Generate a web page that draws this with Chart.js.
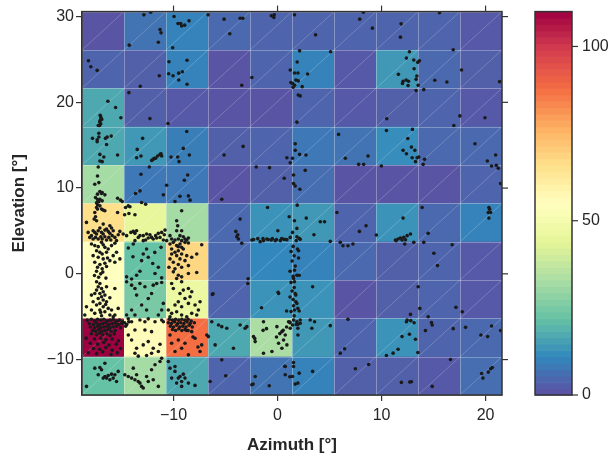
<!DOCTYPE html>
<html>
<head>
<meta charset="utf-8">
<script src="https://cdn.jsdelivr.net/npm/chart.js@4.4.1/dist/chart.umd.min.js"></script>
<style>
  html, body { margin: 0; padding: 0; background: #fff; }
  #wrap { width: 613px; height: 460px; position: relative; }
</style>
</head>
<body>
<div id="wrap"><canvas id="heat"></canvas></div>
<script>
// histogram bin edges (deg)
const azEdges = [-18.8, -14.76, -10.72, -6.68, -2.64, 1.4, 5.44, 9.47, 13.51, 17.55, 21.58];
const elEdges = [-14.13, -9.66, -5.19, -0.72, 3.75, 8.22, 12.69, 17.16, 21.64, 26.11, 30.58];

// counts per bin, highest elevation row first
const binCounts = [
    [1, 7, 10, 5, 4, 4, 4, 4, 4, 2],
    [4, 3, 10, 1, 4, 10, 2, 14, 5, 3],
    [17, 3, 2, 1, 1, 4, 2, 3, 4, 2],
    [17, 14, 9, 3, 4, 8, 7, 12, 5, 5],
    [32, 8, 8, 1, 3, 6, 1, 1, 1, 4],
    [66, 45, 32, 5, 13, 14, 4, 13, 5, 10],
    [55, 22, 68, 5, 11, 10, 5, 3, 4, 2],
    [55, 25, 47, 4, 13, 13, 1, 3, 4, 2],
    [110, 56, 88, 17, 33, 14, 4, 13, 4, 5],
    [22, 32, 17, 4, 7, 10, 3, 3, 2, 6]
];

const xTicks = [-10, 0, 10, 20];
const yTicks = [-10, 0, 10, 20, 30];
const cbTicks = [0, 50, 100];
const cbMax = 110;

// Spectral, reversed (low = purple)
const spectral = ['#5e4fa2', '#3288bd', '#66c2a5', '#abdda4', '#e6f598', '#ffffbf',
    '#fee08b', '#fdae61', '#f46d43', '#d53e4f', '#9e0142'];

// gaze samples [azimuth, elevation]
const scatterPts = [
    [-12.85,30.2],[-12.2,30.5],[-9.95,30.0],[-9.57,29.2],[-9.31,29.2],[-9.22,28.9],[-8.93,29.0],[-8.51,29.5],
    [-6.68,30.2],[-5.14,29.7],[-3.6,29.8],[-3.34,29.8],[-4.59,28.0],[-0.6,30.1],[-0.32,30.2],[-0.35,29.9],
    [-11.3,28.5],[-11.2,28.1],[-11.46,27.0],[-14.26,26.67],[-10.08,26.36],
    [-18.18,24.85],[-17.95,24.15],[-17.34,23.73],[-11.37,23.1],[-13.2,21.87],[-10.44,24.73],[-8.7,24.9],
    [-10.47,23.34],[-10.05,23.1],[-9.5,23.4],[-9.15,23.57],[-9.5,22.6],[-8.7,22.1],[-3.44,21.99],[-2.47,22.9],
    [1.22,23.77],[1.28,22.3],
    [-14.29,21.13],[-16.31,20.13],[-15.57,19.4],[-15.06,18.2],[-17.05,18.5],[-17.0,18.3],[-16.95,18.1],
    [-17.05,17.9],[-17.1,17.7],[-17.0,17.5],[-16.9,18.0],[-17.1,17.3],[-17.24,17.3],[-12.27,18.1],[-10.53,17.53],
    [-8.73,16.6],
    [-17.18,16.4],[-17.18,15.95],[-17.79,15.8],[-17.34,15.64],[-16.54,15.8],[-16.38,15.95],[-15.99,16.06],[-12.97,15.8],
    [-17.34,15.4],[-16.44,15.09],[-17.08,13.93],[-16.7,13.62],[-17.08,13.16],[-16.86,13.08],[-15.38,13.85],
    [-13.49,14.51],[-13.55,13.54],[-13.13,13.74],[-11.95,13.35],[-11.72,13.47],[-11.53,13.74],[-11.3,13.93],
    [-11.2,14.01],[-11.14,13.74],[-12.1,13.23],[-11.85,13.47],[-10.24,13.62],[-9.6,13.62],[-9.06,14.63],
    [-8.48,13.85],[-9.47,13.08],[-5.14,13.85],[-3.31,14.86],
    [-2.05,12.46],[-0.77,12.38],[0.64,11.14],[0.9,13.54],[1.22,12.96],
    [-17.24,12.46],[-17.31,11.41],[-17.57,10.45],[-17.18,10.64],[-17.08,9.6],[-16.86,9.48],[-17.31,9.29],
    [-17.5,8.9],[-17.08,8.7],[-16.86,8.51],[-17.31,8.67],[-16.6,9.21],[-16.92,9.36],[-17.4,8.28],[-17.18,8.4],
    [-15.38,8.82],[-15.09,8.59],[-14.93,8.43],
    [-12.33,12.46],[-13.13,11.61],[-13.23,9.67],[-13.65,9.36],[-13.07,8.32],[-12.68,8.12],
    [-10.66,10.33],[-10.98,9.21],[-9.86,8.43],[-9.38,9.05],[-8.96,10.91],[-8.64,11.53],[-8.57,9.09],[-8.41,8.59],
    [-5.36,8.7],
    // row 3.8..8.2
    [-17.4,7.74],[-17.57,7.16],[-17.31,7.55],[-17.63,6.38],[-17.4,6.19],[-17.5,6.65],[-16.92,7.55],[-16.76,7.43],
    [-16.6,7.35],[-17.31,8.05],[-17.08,7.93],[-17.73,5.03],[-17.57,4.83],[-17.4,4.64],[-17.24,5.03],[-17.08,5.34],
    [-16.92,4.83],[-16.76,4.64],[-16.6,5.1],[-16.44,5.22],[-16.28,4.95],[-16.12,4.72],[-15.96,5.34],[-15.8,5.03],
    [-15.64,4.25],[-17.89,4.45],[-17.73,4.06],[-17.5,4.25],[-17.24,4.06],[-16.99,4.33],[-16.86,4.06],[-16.6,4.33],
    [-16.44,3.94],[-16.22,4.25],[-16.03,3.94],[-15.48,3.87],[-15.9,4.45],[-15.32,4.56],[-15.16,4.95],[-18.21,4.83],
    [-18.05,4.25],[-15.38,7.16],[-18.37,6.0],[-16.76,5.8],[-16.12,5.61],
    [-14.61,7.74],[-14.35,7.93],[-14.19,7.82],[-14.7,6.89],[-14.29,7.04],[-13.71,6.89],[-14.84,4.64],[-14.51,4.45],
    [-14.1,4.83],[-13.87,4.95],[-13.71,4.72],[-13.55,5.03],[-13.23,4.45],[-12.91,4.45],[-12.68,3.94],[-12.43,4.18],
    [-12.11,4.25],[-11.95,4.06],[-11.72,4.45],[-11.46,4.72],[-11.14,4.83],[-10.89,4.56],[-11.3,4.25],[-10.98,3.94],
    [-10.82,5.1],[-12.91,3.87],[-13.71,3.87],[-12.27,4.56],[-11.62,4.18],[-13.39,4.25],[-12.59,4.64],
    [-9.22,7.35],[-9.6,5.61],[-9.22,5.03],[-9.7,5.03],[-10.34,4.45],[-10.66,3.87],[-9.86,3.94],[-9.54,4.06],
    [-9.22,3.87],[-8.9,4.06],[-8.57,4.18],[-10.18,4.06],[-9.38,4.45],[-9.06,4.33],[-8.73,3.94],[-9.7,6.19],
    [-3.6,6.38],[-4.01,4.95],[-3.82,4.56],[-3.76,4.06],[-3.44,3.56],[-3.92,4.33],
    [-0.96,7.74],[1.12,6.65],[0.03,5.03],[0.61,4.02],[0.9,3.98],[0.26,3.87],[-0.22,3.87],[1.22,4.25],[-0.61,3.94],
    [-1.03,4.06],[-1.35,3.87],[-1.67,3.75],[-2.47,3.94],
    [-2.3,4.0],[-1.9,4.1],[-1.4,4.1],[-0.9,4.0],[-0.5,4.1],[-0.1,4.0],[0.4,4.1],[0.8,4.0],
    // row -0.7..3.8
    [-17.89,3.48],[-17.57,3.29],[-17.24,3.17],[-16.92,3.67],[-16.76,3.4],[-16.6,3.09],[-17.4,2.7],[-17.08,2.51],
    [-16.86,2.32],[-16.44,2.51],[-16.28,2.9],[-15.96,3.29],[-15.64,3.56],[-17.73,2.12],[-17.24,1.93],[-16.76,1.74],
    [-16.35,1.85],[-15.8,2.12],[-15.48,2.51],[-17.57,1.35],[-17.08,1.08],[-16.6,1.23],[-16.12,1.54],[-15.64,1.35],
    [-15.16,1.74],[-17.31,0.77],[-16.86,0.58],[-16.44,0.85],[-17.4,0.3],[-17.0,0.0],[-16.8,0.2],[-17.2,-0.4],
    [-16.5,-0.5],[-17.6,-0.2],
    [-14.35,3.01],[-13.87,3.48],[-13.07,1.54],[-12.91,2.32],[-12.43,1.93],[-12.59,2.9],[-11.46,0.77],[-11.2,3.09],
    [-14.51,-0.35],[-14.03,-0.6],[-13.55,-0.16],[-11.78,0.04],[-11.14,-0.47],[-13.23,0.3],[-13.9,2.0],[-12.0,1.2],
    [-11.8,2.5],
    [-10.34,3.48],[-10.02,3.67],[-9.7,3.29],[-9.38,3.48],[-9.22,3.09],[-8.9,3.67],[-8.57,3.6],[-10.18,2.9],
    [-9.86,2.51],[-9.54,2.7],[-9.22,2.32],[-8.73,2.12],[-8.25,1.93],[-7.29,3.4],[-7.77,2.32],[-10.34,1.74],
    [-10.02,1.35],[-9.54,1.08],[-9.22,0.77],[-8.57,0.96],[-10.44,0.77],[-9.86,0.58],[-8.9,1.54],[-9.54,3.17],
    [-9.06,2.9],[-9.7,2.12],[-9.38,1.74],[-10.18,2.32],[-10.02,0.23],[-9.54,-0.16],[-9.22,-0.35],[-8.57,0.04],
    [-7.77,0.15],[-9.7,-0.55],
    [-2.83,-0.58],
    [1.5,3.2],[1.3,2.6],[1.6,2.1],[1.4,1.5],[1.7,0.9],[1.2,0.3],[1.5,-0.3],[1.3,-1.0],[1.6,-1.6],[1.4,-2.0],
    [1.2,-2.7],[1.5,-3.0],[1.3,-4.4],[1.6,-4.9],[1.2,-5.7],[1.8,-5.9],
    // row -5.2..-0.7
    [-17.4,-0.93],[-17.08,-1.13],[-17.24,-1.51],[-16.92,-1.71],[-17.4,-1.9],[-16.76,-2.09],[-17.08,-2.29],
    [-16.6,-2.48],[-16.92,-2.67],[-17.24,-2.87],[-16.76,-3.06],[-16.44,-3.26],[-17.08,-3.45],[-17.4,-3.64],
    [-16.76,-3.84],[-16.28,-4.03],[-17.08,-4.22],[-16.6,-4.42],[-17.57,-4.61],[-16.12,-4.8],[-16.92,-4.88],
    [-18.37,-3.84],[-18.53,-4.8],[-15.64,-1.71],[-15.32,-4.03],[-15.64,-4.8],[-15.8,-5.0],[-17.89,-2.48],
    [-17.73,-3.26],[-16.44,-1.51],[-16.12,-2.79],[-17.57,-2.29],[-17.0,-4.5],[-16.53,-3.57],[-17.89,-4.22],
    [-15.96,-4.22],
    [-14.51,-0.93],[-14.03,-1.32],[-13.71,-1.71],[-13.23,-1.13],[-12.75,-1.51],[-11.95,-1.32],[-11.62,-1.13],
    [-11.14,-1.01],[-13.55,-2.48],[-12.43,-2.87],[-12.11,-2.29],[-13.07,-3.64],[-12.59,-4.22],[-14.03,-4.22],
    [-11.14,-4.22],[-10.98,-3.45],[-14.51,-4.8],[-13.71,-4.8],[-11.46,-4.8],
    [-10.18,-1.13],[-9.22,-0.93],[-8.57,-1.71],[-8.25,-2.09],[-8.9,-2.87],[-9.54,-3.26],[-9.86,-3.64],[-9.22,-3.84],
    [-8.57,-3.45],[-7.93,-3.64],[-7.45,-3.26],[-10.5,-4.22],[-10.18,-4.61],[-9.7,-4.42],[-9.22,-4.8],[-8.73,-5.0],
    [-8.25,-4.61],[-10.34,-5.0],[-7.77,-4.8],[-10.02,-1.71],[-9.38,-2.29],[-9.06,-1.9],[-8.41,-2.67],[-7.61,-4.22],
    [-6.26,-2.4],[-2.86,-1.13],[-6.2,-2.32],
    [-1.54,-3.95],[0.06,-2.14],[0.87,-4.34],[0.1,-2.29],
    [1.63,0.42],[1.86,-0.16],[2.08,-0.16],[1.54,-0.55],
    [1.63,-0.93],[1.7,-2.29],[1.76,-3.26],[1.86,-3.45],[1.54,-3.72],[1.96,-4.03],[2.08,-4.34],[1.63,-4.22],
    [1.76,-2.48],[3.37,-1.51],
    [13.52,-1.51],[13.68,-4.03],[17.15,-3.91],[17.76,-4.42],
    // row -9.7..-5.2
    [-18.3,-5.4],[-17.9,-5.3],[-17.6,-5.5],[-17.3,-5.3],[-17.0,-5.4],[-16.7,-5.3],[-16.4,-5.5],[-16.1,-5.4],
    [-15.8,-5.3],[-15.5,-5.5],[-15.2,-5.4],[-14.9,-5.6],
    [-18.1,-5.8],[-17.7,-5.9],[-17.4,-5.7],[-17.1,-5.9],[-16.8,-5.8],[-16.5,-5.7],[-16.2,-5.9],[-15.9,-5.8],
    [-15.6,-5.7],[-15.3,-5.9],[-15.0,-5.8],
    [-18.0,-6.2],[-17.6,-6.3],[-17.3,-6.1],[-17.0,-6.3],[-16.7,-6.2],[-16.4,-6.1],[-16.1,-6.3],[-15.8,-6.2],
    [-15.5,-6.1],[-15.1,-6.3],
    [-17.8,-6.6],[-17.5,-6.7],[-17.2,-6.5],[-16.9,-6.7],[-16.6,-6.6],[-16.3,-6.5],[-16.0,-6.7],[-15.6,-6.6],
    [-17.9,-7.0],[-17.4,-7.1],[-17.1,-6.9],[-16.8,-7.1],[-16.4,-7.0],[-16.1,-7.2],[-15.7,-7.0],
    [-18.4,-7.5],[-17.6,-7.6],[-17.0,-7.5],[-16.5,-7.7],[-15.9,-7.6],[-15.3,-7.8],
    [-18.0,-8.1],[-17.3,-8.2],[-16.7,-8.0],[-16.2,-8.3],[-15.5,-8.2],
    [-17.7,-8.7],[-17.1,-8.8],[-16.5,-8.6],[-15.9,-8.9],[-15.1,-8.7],
    [-18.2,-9.2],[-17.4,-9.3],[-16.8,-9.1],[-16.0,-9.4],[-15.4,-9.2],
    [-14.7,-5.7],[-14.5,-5.9],[-14.3,-5.6],[-14.6,-6.1],
    [-14.35,-5.25],[-14.03,-5.58],[-13.23,-5.38],[-12.75,-5.58],[-12.43,-5.25],[-11.78,-5.58],[-11.14,-5.38],
    [-10.98,-5.58],[-13.71,-6.55],[-12.75,-6.55],[-12.11,-6.74],[-14.35,-7.13],[-14.03,-7.71],[-12.91,-8.29],
    [-12.43,-7.9],[-11.95,-8.68],[-11.3,-8.21],[-13.55,-8.68],[-13.71,-9.26],[-12.11,-9.26],[-12.59,-9.53],
    [-13.39,-9.6],[-11.46,-9.06],
    [-10.4,-5.3],[-10.1,-5.4],[-9.8,-5.3],[-9.5,-5.4],[-9.2,-5.3],[-8.9,-5.4],[-8.6,-5.3],[-8.3,-5.5],
    [-10.5,-5.7],[-10.2,-5.8],[-9.9,-5.6],[-9.6,-5.8],[-9.3,-5.7],[-9.0,-5.8],[-8.7,-5.6],[-8.4,-5.8],[-8.0,-5.7],
    [-10.3,-6.1],[-10.0,-6.2],[-9.7,-6.0],[-9.4,-6.2],[-9.1,-6.1],[-8.8,-6.2],[-8.5,-6.0],[-8.2,-6.2],
    [-10.1,-6.5],[-9.8,-6.6],[-9.5,-6.4],[-9.2,-6.6],[-8.9,-6.5],[-8.6,-6.6],
    [-10.34,-7.13],[-9.54,-7.71],[-8.9,-8.09],[-7.93,-7.51],[-7.29,-8.29],[-7.45,-9.06],[-9.86,-9.06],
    [-9.22,-8.68],[-10.18,-8.09],[-8.25,-6.74],[-6.8,-7.13],[-8.57,-9.45],[-8.77,-6.59],[-8.13,-7.36],[-7.65,-8.53],
    [-6.32,-5.58],[-5.36,-6.16],[-4.88,-6.35],[-3.6,-5.97],[-3.12,-6.35],[-2.95,-6.16],[-6.0,-8.29],[-4.24,-8.68],
    [-6.65,-7.32],[-5.68,-5.97],
    [-2.31,-7.32],[-2.15,-7.9],[-1.35,-5.58],[-0.06,-6.16],[0.42,-6.74],[0.74,-7.13],[0.58,-7.71],[0.9,-8.29],
    [0.1,-8.09],[-0.54,-9.06],[-1.35,-9.26],[0.42,-8.68],[1.22,-6.35],[1.06,-5.58],
    [-2.19,-7.55],[-1.39,-6.59],[-1.06,-6.39],[-0.1,-7.36],[0.22,-6.97],[0.54,-6.59],[0.87,-6.2],[1.18,-5.62],
    [1.54,-5.38],[1.86,-5.58],[2.18,-5.38],[1.44,-5.97],[1.96,-5.89],[2.18,-5.77],[3.14,-5.38],[3.56,-5.58],
    [3.3,-6.35],[1.96,-6.35],[1.96,-7.13],[5.07,-6.04],
    [6.77,-5.31],[6.45,-8.75],[6.03,-9.25],
    [12.39,-5.58],[12.81,-5.46],[13.13,-5.7],[12.46,-5.38],[12.78,-4.73],[11.97,-7.32],[12.68,-7.05],
    [13.26,-7.63],[11.59,-8.79],[11.11,-9.25],[10.47,-9.53],[13.49,-9.18],
    [14.48,-5.0],[14.8,-5.69],[14.87,-5.97],[14.22,-6.62],[16.89,-6.39],
    [18.08,-6.24],[20.58,-6.08],[21.45,-6.62],[19.55,-7.13],[20.2,-7.32],
    // row -14.1..-9.7
    [-17.57,-11.0],[-17.08,-10.92],[-16.6,-10.42],[-16.6,-11.97],[-16.44,-12.16],[-16.28,-11.85],[-15.96,-11.7],
    [-15.8,-12.16],[-15.64,-11.77],[-16.12,-12.35],[-16.76,-12.16],[-18.37,-13.13],[-16.92,-11.19],[-15.32,-11.38],
    [-15.48,-12.55],[-17.24,-11.77],
    [-14.68,-11.77],[-14.35,-11.97],[-14.03,-12.16],[-13.71,-12.35],[-13.39,-12.55],[-13.23,-12.74],[-13.07,-13.13],
    [-13.55,-11.77],[-12.59,-11.97],[-12.11,-11.19],[-11.78,-10.61],[-11.3,-10.22],[-12.43,-12.55],[-11.95,-12.35],
    [-12.91,-13.32],[-13.87,-11.0],[-11.14,-9.84],[-11.46,-13.13],
    [-10.5,-10.22],[-10.34,-11.0],[-9.86,-10.8],[-9.38,-11.97],[-9.06,-11.7],[-8.9,-12.16],[-9.22,-12.55],
    [-9.7,-12.74],[-8.57,-12.74],[-7.93,-13.01],[-10.18,-12.16],[-9.54,-12.16],[-9.22,-13.13],[-9.86,-11.38],
    [-5.36,-10.03],[-6.48,-12.55],[-4.98,-11.89],
    [-2.47,-12.93],[-2.15,-11.97],[-0.8,-13.05],[0.74,-10.8],[0.74,-11.77],[-2.35,-12.86],[0.7,-10.77],[1.18,-12.0],
    [1.54,-10.34],[1.54,-10.8],[2.08,-11.58],[3.37,-11.38],[1.44,-11.97],[1.7,-12.86],[1.96,-12.74],
    [7.48,-11.07],[8.76,-10.57],
    [11.91,-12.66],[12.71,-12.62],[12.87,-12.59],
    [14.87,-13.13],[16.63,-9.99],
    [19.62,-11.62],[19.75,-12.16],[20.26,-11.46],[20.49,-11.07],[20.65,-10.92],
    // right half, upper rows
    [1.63,30.2],[7.9,29.7],[8.25,30.5],[9.12,28.65],[3.66,27.87],[11.88,29.15],[11.82,27.6],[15.57,30.46],
    [2.12,26.0],[5.1,25.9],[1.89,24.7],[1.63,23.42],[1.96,23.42],[2.89,23.3],[1.76,22.6],[1.99,22.5],[1.45,22.2],
    [1.64,22.0],[2.37,21.83],[1.5,21.75],
    [12.68,25.9],[12.39,25.16],[13.1,24.93],[13.48,24.66],[13.64,24.85],[13.13,23.92],[13.39,23.07],[13.32,22.68],
    [11.62,23.26],[12.07,22.45],[12.01,22.2],[12.36,22.6],[12.59,22.45],[12.55,21.95],[13.52,21.99],[13.32,21.37],
    [14.06,21.48],
    [15.12,22.57],[16.28,22.37],[16.89,26.13],[17.69,23.77],[21.35,22.41],
    [1.99,20.86],[2.18,20.75],[1.86,17.69],[10.5,18.08],[17.53,18.42],[16.95,17.3],[19.94,18.2],
    [5.87,16.26],[10.47,16.72],[12.97,16.84],[12.52,15.79],
    [1.7,15.17],[1.7,14.4],[2.12,13.93],[2.73,13.85],[1.44,13.47],
    [6.52,13.47],[8.7,13.74],[7.8,12.77],[8.28,12.77],[9.98,12.58],
    [12.07,14.4],[12.87,14.78],[13.2,14.4],[12.39,14.01],[12.94,13.54],[13.42,13.54],[13.58,13.62],[13.26,13.08],
    [14.13,13.35],[14.0,12.77],
    [18.98,15.17],[20.17,13.16],[20.97,13.85],[21.03,12.65],[20.58,12.58],[21.22,12.31],
    [1.54,11.53],[1.54,10.52],[1.7,10.25],[2.66,12.07],[2.15,9.87],[21.45,10.52],
    [1.89,8.01],[1.63,6.19],[2.76,6.5],[4.11,6.07],[4.52,6.07],[3.5,4.56],[1.44,4.83],[1.86,5.3],[1.86,4.33],
    [2.08,4.14],[2.18,4.02],[1.8,3.87],[5.07,3.79],
    [5.71,7.16],[7.87,4.95],[8.51,5.61],[9.5,4.52],
    [12.07,6.5],[11.33,3.94],[11.59,4.06],[11.81,4.18],[12.14,4.26],[12.46,4.45],[12.78,4.64],[11.97,3.94],
    [12.3,3.98],[11.4,3.87],
    [13.9,7.74],[14.48,4.72],
    [20.32,7.74],[20.39,7.54],[20.26,7.16],[20.49,7.16],[20.32,6.5],
    [1.92,2.9],[2.02,2.7],[2.02,1.85],
    [6.03,3.67],[6.29,3.28],[6.77,3.28],[7.25,3.48],
    [12.23,3.48],[13.1,3.67],[14.06,3.67],[15.03,2.4],[15.38,0.96],[16.79,3.4]
];

const fontFamily = "'Liberation Sans', Arial, Helvetica, sans-serif";

function hexToRgb(h) {
    const n = parseInt(h.slice(1), 16);
    return [(n >> 16) & 255, (n >> 8) & 255, n & 255];
}
const cmapRgb = spectral.map(hexToRgb);

function colorFor(v) {
    const t = Math.max(0, Math.min(1, v / cbMax)) * (cmapRgb.length - 1);
    const i = Math.min(Math.floor(t), cmapRgb.length - 2);
    const f = t - i;
    const a = cmapRgb[i], b = cmapRgb[i + 1];
    const c = a.map((ch, k) => Math.round(ch + (b[k] - ch) * f));
    return `rgb(${c[0]},${c[1]},${c[2]})`;
}

const fmtTick = v => String(v).replace('-', '\u2212');

// draws the histogram cells under the points, frame and colour bar on top
const heatmapPlugin = {
    id: 'heatmap',
    beforeDatasetsDraw(chart) {
        const { ctx, chartArea: area, scales: { x, y } } = chart;
        const nRows = binCounts.length;
        ctx.save();
        ctx.beginPath();
        ctx.rect(area.left, area.top, area.width, area.height);
        ctx.clip();
        binCounts.forEach((row, r) => {
            const lo = elEdges[nRows - 1 - r], hi = elEdges[nRows - r];
            const y0 = y.getPixelForValue(hi), y1 = y.getPixelForValue(lo);
            row.forEach((v, c) => {
                const x0 = x.getPixelForValue(azEdges[c]), x1 = x.getPixelForValue(azEdges[c + 1]);
                ctx.fillStyle = colorFor(v);
                ctx.fillRect(x0, y0, x1 - x0 + 0.5, y1 - y0 + 0.5);
                // faint triangle seam
                ctx.strokeStyle = 'rgba(255,255,255,0.35)';
                ctx.lineWidth = 0.6;
                ctx.beginPath();
                ctx.moveTo(x0, y1);
                ctx.lineTo(x1, y0);
                ctx.stroke();
            });
        });
        ctx.strokeStyle = 'rgba(255,255,255,0.3)';
        ctx.lineWidth = 1;
        azEdges.forEach(a => {
            const px = Math.round(x.getPixelForValue(a)) + 0.5;
            ctx.beginPath(); ctx.moveTo(px, area.top); ctx.lineTo(px, area.bottom); ctx.stroke();
        });
        elEdges.forEach(e => {
            const py = Math.round(y.getPixelForValue(e)) + 0.5;
            ctx.beginPath(); ctx.moveTo(area.left, py); ctx.lineTo(area.right, py); ctx.stroke();
        });
        ctx.restore();
    },
    afterDraw(chart) {
        const { ctx, chartArea: area, scales: { x, y, cb } } = chart;
        ctx.save();
        ctx.strokeStyle = '#333';
        ctx.lineWidth = 1.5;
        ctx.strokeRect(area.left, area.top, area.right - area.left, area.bottom - area.top);
        // mirrored ticks on top and right
        ctx.lineWidth = 1.2;
        xTicks.forEach(t => {
            const px = x.getPixelForValue(t);
            ctx.beginPath(); ctx.moveTo(px, area.top); ctx.lineTo(px, area.top - 6); ctx.stroke();
        });
        yTicks.forEach(t => {
            const py = y.getPixelForValue(t);
            ctx.beginPath(); ctx.moveTo(area.right, py); ctx.lineTo(area.right + 6, py); ctx.stroke();
        });

        // colour bar
        const bx = cb.left + 33, bw = 37;
        const steps = 60;
        for (let i = 0; i < steps; i++) {
            const v0 = cbMax * i / steps, v1 = cbMax * (i + 1) / steps;
            const yA = cb.getPixelForValue(v0), yB = cb.getPixelForValue(v1);
            ctx.fillStyle = colorFor((v0 + v1) / 2);
            ctx.fillRect(bx, yB, bw, yA - yB + 0.6);
        }
        ctx.strokeStyle = '#333';
        ctx.lineWidth = 1.5;
        ctx.strokeRect(bx, cb.getPixelForValue(cbMax), bw, cb.getPixelForValue(0) - cb.getPixelForValue(cbMax));
        ctx.lineWidth = 1.2;
        cbTicks.forEach(t => {
            const py = cb.getPixelForValue(t);
            ctx.beginPath(); ctx.moveTo(bx + bw, py); ctx.lineTo(bx + bw + 6, py); ctx.stroke();
        });
        ctx.restore();
    }
};

new Chart(document.getElementById('heat'), {
    type: 'scatter',
    data: {
        datasets: [{
            data: scatterPts.map(p => ({ x: p[0], y: p[1] })),
            pointRadius: 1.8,
            pointHoverRadius: 1.8,
            pointBackgroundColor: '#1a1a1a',
            pointBorderWidth: 0
        }]
    },
    options: {
        responsive: true,
        maintainAspectRatio: false,
        animation: false,
        events: [],
        layout: { padding: { top: 10, left: 0, right: 0, bottom: 0 } },
        plugins: {
            legend: { display: false },
            tooltip: { enabled: false }
        },
        scales: {
            x: {
                type: 'linear',
                min: azEdges[0],
                max: azEdges[azEdges.length - 1],
                afterBuildTicks: s => { s.ticks = xTicks.map(v => ({ value: v })); },
                afterFit: s => { s.height = 65; },
                grid: { drawOnChartArea: false, tickLength: 6, color: '#333', lineWidth: 1.2 },
                border: { color: '#333', width: 1.5 },
                ticks: { font: { size: 16, family: fontFamily }, color: '#262626', padding: 5, callback: fmtTick, maxRotation: 0 },
                title: {
                    display: true, text: 'Azimuth [°]', color: '#262626',
                    font: { size: 17, weight: 'bold', family: fontFamily },
                    padding: { top: 0, bottom: 4 }
                }
            },
            y: {
                type: 'linear',
                min: elEdges[0],
                max: elEdges[elEdges.length - 1],
                afterBuildTicks: s => { s.ticks = yTicks.map(v => ({ value: v })); },
                afterFit: s => { s.width = 82; },
                grid: { drawOnChartArea: false, tickLength: 6, color: '#333', lineWidth: 1.2 },
                border: { color: '#333', width: 1.5 },
                ticks: { font: { size: 16, family: fontFamily }, color: '#262626', padding: 2, callback: fmtTick },
                title: {
                    display: true, text: 'Elevation [°]', color: '#262626',
                    font: { size: 17, weight: 'bold', family: fontFamily },
                    padding: { top: 9, bottom: 0 }
                }
            },
            cb: {
                type: 'linear',
                position: 'right',
                min: 0,
                max: cbMax,
                afterBuildTicks: s => { s.ticks = cbTicks.map(v => ({ value: v })); },
                afterFit: s => { s.width = 111; },
                // invisible long tick marks push the labels past the colour bar
                grid: { display: true, drawOnChartArea: false, drawTicks: true, tickLength: 78, color: 'rgba(0,0,0,0)' },
                border: { display: false },
                ticks: { font: { size: 16, family: fontFamily }, color: '#262626', padding: 2 }
            }
        }
    },
    plugins: [heatmapPlugin]
});
</script>
</body>
</html>
